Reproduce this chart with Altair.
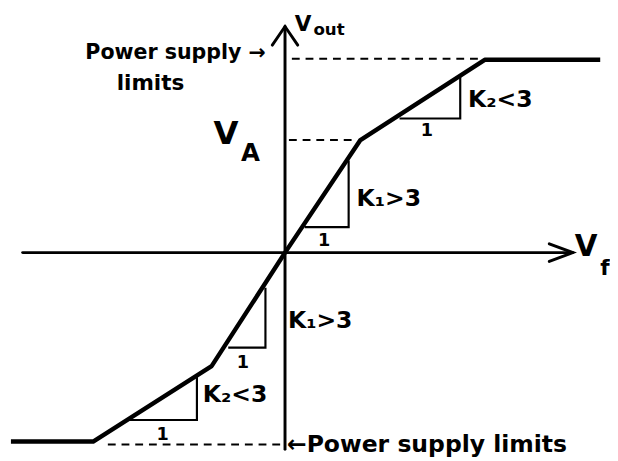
import altair as alt
import pandas as pd

# Transfer curve (Vf, Vout) break points, units
curve_vf = [-28.0, -19.6, -7.5, 0.0, 7.7, 20.4, 32.2]
curve_vout = [-19.3, -19.3, -11.6, 0.0, 11.5, 19.7, 19.7]

# Axes and arrow heads
axis_seg = ["vaxis", "vaxis", "haxis", "haxis",
            "varrow", "varrow", "varrow", "harrow", "harrow", "harrow"]
axis_x = [0.0, 0.0, -26.8, 29.4, -1.3, 0.0, 1.3, 27.0, 29.4, 27.0]
axis_y = [-20.1, 23.1, 0.0, 0.0, 21.2, 23.1, 21.2, 0.9, 0.0, -0.9]

# Slope triangles
tri_seg = ["t1"] * 3 + ["t2"] * 3 + ["t3"] * 3 + ["t4"] * 3
tri_x = [11.7, 17.9, 17.9, 2.0, 6.5, 6.5, -5.8, -2.0, -2.0, -16.0, -9.0, -9.0]
tri_y = [13.7, 13.7, 18.0, 2.6, 2.6, 9.4, -9.7, -9.7, -3.6, -17.1, -17.1, -12.6]

# Dashed guide lines (supply limits and V_A)
dash_seg = ["top", "top", "va", "va", "bottom", "bottom"]
dash_x = [0.7, 20.0, 0.4, 7.0, -18.1, -0.3]
dash_y = [19.8, 19.8, 11.5, 11.5, -19.6, -19.6]

# Labels: text, left x, centre y, font size
lab_text = ["V", "out", "Power supply \u2192", "limits", "V", "A",
            "K\u2082<3", "1", "K\u2081>3", "1", "K\u2081>3", "1", "K\u2082<3", "1",
            "\u2190Power supply limits", "V", "f"]
lab_x = [29.8, 31.7, 8.4, 11.6, 21.5, 24.3,
         47.5, 43.3, 36.1, 32.8, 29.1, 24.5, 20.4, 16.3,
         29.0, 58.4, 61.0]
lab_y = [1.9, 2.5, 4.8, 7.9, 13.1, 15.0,
         9.6, 12.8, 19.7, 24.0, 32.2, 36.5, 39.8, 43.8,
         44.9, 24.6, 26.8]
lab_size = [22, 17, 21, 22, 33, 25,
            24, 18, 24, 18, 24, 18, 24, 18,
            24, 30, 22]
lab_align = ["left", "left", "left", "left", "left", "left",
             "left", "center", "left", "center", "left", "center", "left", "center",
             "left", "left", "left"]

X0, Y0 = 28.8, 25.2  # pixel/10 position of the origin on the page (for labels)

xs = alt.Scale(domain=[-28.0, 32.2], nice=False, zero=False)
ys = alt.Scale(domain=[-20.1, 24.4], nice=False, zero=False)

curve_df = pd.DataFrame({"vf": curve_vf, "vout": curve_vout, "o": range(len(curve_vf))})
axis_df = pd.DataFrame({"seg": axis_seg, "vf": axis_x, "vout": axis_y, "o": range(len(axis_x))})
tri_df = pd.DataFrame({"seg": tri_seg, "vf": tri_x, "vout": tri_y, "o": range(len(tri_x))})
dash_df = pd.DataFrame({"seg": dash_seg, "vf": dash_x, "vout": dash_y, "o": range(len(dash_x))})
lab_df = pd.DataFrame({
    "t": lab_text,
    "vf": [x - X0 for x in lab_x],
    "vout": [Y0 - y for y in lab_y],
    "fs": lab_size,
    "al": lab_align,
})

X = alt.X("vf:Q", scale=xs, axis=None)
Y = alt.Y("vout:Q", scale=ys, axis=None)

curve = alt.Chart(curve_df).mark_line(color="black", strokeWidth=4.5, strokeJoin="round").encode(
    x=X, y=Y, order="o:Q")
axes = alt.Chart(axis_df).mark_line(color="black", strokeWidth=3, strokeCap="round").encode(
    x=X, y=Y, detail="seg:N", order="o:Q")
tris = alt.Chart(tri_df).mark_line(color="black", strokeWidth=2.2).encode(
    x=X, y=Y, detail="seg:N", order="o:Q")
dashes = alt.Chart(dash_df).mark_line(color="black", strokeWidth=2, strokeDash=[8, 6]).encode(
    x=X, y=Y, detail="seg:N", order="o:Q")

def text_layer(align):
    d = lab_df[lab_df["al"] == align]
    return alt.Chart(d).mark_text(align=align, baseline="middle", color="black",
                                  font="DejaVu Sans", fontWeight="bold").encode(
        x=X, y=Y, text="t:N", size=alt.Size("fs:Q", scale=None, legend=None))

chart = alt.layer(dashes, tris, axes, curve, text_layer("left"), text_layer("center")).properties(
    width=602, height=445, padding=0
).configure(background="white").configure_view(stroke=None)

chart.save("out.html", embed_options={"renderer": "svg", "actions": False})
